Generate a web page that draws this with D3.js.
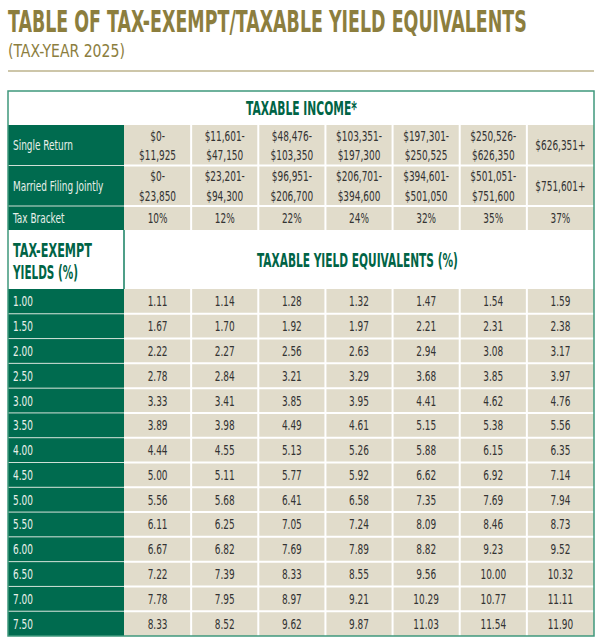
<!DOCTYPE html>
<html><head><meta charset="utf-8">
<script src="https://cdn.jsdelivr.net/npm/d3@7"></script>
<style>
html,body{margin:0;padding:0;background:#fff;}
svg{display:block;}
</style></head>
<body>
<svg id="chart" width="601" height="644"></svg>
<script>
// ---- data ----
const titleText = "TABLE OF TAX-EXEMPT/TAXABLE YIELD EQUIVALENTS";
const subtitleText = "(TAX-YEAR 2025)";
const incomeHeader = "TAXABLE INCOME*";
const exemptHeader = ["TAX-EXEMPT", "YIELDS (%)"];
const equivHeader = "TAXABLE YIELD EQUIVALENTS (%)";
const rowLabels = ["Single Return", "Married Filing Jointly", "Tax Bracket"];
const singleReturn = [["$0-","$11,925"],["$11,601-","$47,150"],["$48,476-","$103,350"],["$103,351-","$197,300"],["$197,301-","$250,525"],["$250,526-","$626,350"],["$626,351+"]];
const marriedJoint = [["$0-","$23,850"],["$23,201-","$94,300"],["$96,951-","$206,700"],["$206,701-","$394,600"],["$394,601-","$501,050"],["$501,051-","$751,600"],["$751,601+"]];
const taxBrackets = ["10%","12%","22%","24%","32%","35%","37%"];
const exemptYields = ["1.00","1.50","2.00","2.50","3.00","3.50","4.00","4.50","5.00","5.50","6.00","6.50","7.00","7.50"];
const equivalents = [
  [1.11,1.14,1.28,1.32,1.47,1.54,1.59],
  [1.67,1.70,1.92,1.97,2.21,2.31,2.38],
  [2.22,2.27,2.56,2.63,2.94,3.08,3.17],
  [2.78,2.84,3.21,3.29,3.68,3.85,3.97],
  [3.33,3.41,3.85,3.95,4.41,4.62,4.76],
  [3.89,3.98,4.49,4.61,5.15,5.38,5.56],
  [4.44,4.55,5.13,5.26,5.88,6.15,6.35],
  [5.00,5.11,5.77,5.92,6.62,6.92,7.14],
  [5.56,5.68,6.41,6.58,7.35,7.69,7.94],
  [6.11,6.25,7.05,7.24,8.09,8.46,8.73],
  [6.67,6.82,7.69,7.89,8.82,9.23,9.52],
  [7.22,7.39,8.33,8.55,9.56,10.00,10.32],
  [7.78,7.95,8.97,9.21,10.29,10.77,11.11],
  [8.33,8.52,9.62,9.87,11.03,11.54,11.90]
];

// ---- layout / style ----
const L = 8, R = 594, labelW = 116;
const GREEN = "#006b4f", BEIGE = "#e1dccb", GOLD = "#8c7e3e", HGREEN = "#006446";
const BORDER = "#3f987c";
const NARROW = "'Liberation Sans Narrow','DejaVu Sans Condensed','Roboto Condensed',sans-serif";

const svg = d3.select("#chart");

// horizontally fitted text: natural glyphs, scaled in x to a target width
function fitText(parent, tx, ty, str, target, opts) {
  const t = parent.append("text")
    .attr("font-family", NARROW)
    .attr("font-weight", opts.weight || "normal")
    .attr("font-size", opts.size)
    .attr("fill", opts.fill)
    .attr("text-anchor", opts.anchor || "start")
    .text(str);
  const w = t.node().getComputedTextLength();
  t.attr("transform", `translate(${tx},${ty}) scale(${target / w},1)`);
  return t;
}

// body text scale derived from a reference label width
const probe = svg.append("text").attr("font-family", NARROW).attr("font-size", 14).text("Single Return");
const SX = 60 / probe.node().getComputedTextLength();
probe.remove();

function stext(g, tx, ty, str, opts) {
  return g.append("text")
    .attr("transform", `translate(${tx},${ty}) scale(${SX},1)`)
    .attr("text-anchor", opts.anchor || "middle")
    .attr("font-family", NARROW).attr("font-size", opts.size || 14)
    .attr("fill", opts.fill || "#333").text(str);
}

const hdr = {income:[91,125], single:[125,165.5], married:[165.5,206], bracket:[206,230], exempt:[230,289]};
const x = d3.scaleBand().domain(d3.range(taxBrackets.length)).range([L+labelW, R]);
const y = d3.scaleBand().domain(exemptYields).range([289, 636]);

// title
fitText(svg, L, 32, titleText, 519, {size:30, weight:"bold", fill:GOLD});
fitText(svg, L, 57, subtitleText, 117, {size:18, fill:GOLD});
svg.append("line").attr("x1", L).attr("x2", R).attr("y1", 71).attr("y2", 71)
  .attr("stroke", "#bcb38c").attr("stroke-width", 1.5);

const g = svg.append("g");

// income header row (white)
g.append("rect").attr("x", L).attr("y", hdr.income[0]).attr("width", R-L).attr("height", hdr.income[1]-hdr.income[0]).attr("fill", "#fff");
fitText(g, 246, 115, incomeHeader, 111, {size:19, weight:"bold", fill:HGREEN});

// green label cells for header rows
const hRows = [hdr.single, hdr.married, hdr.bracket];
hRows.forEach((r, i) => {
  g.append("rect").attr("x", L).attr("y", r[0]).attr("width", labelW).attr("height", r[1]-r[0]).attr("fill", GREEN);
  stext(g, 13, (r[0]+r[1])/2 + 5, rowLabels[i], {anchor:"start", fill:"#e9f0ea"});
});
// green label cells for yields
exemptYields.forEach(v => {
  g.append("rect").attr("x", L).attr("y", y(v)).attr("width", labelW).attr("height", y.bandwidth()).attr("fill", GREEN);
  stext(g, 13, y(v) + y.bandwidth()/2 + 5, v, {anchor:"start", fill:"#e9f0ea"});
});
// separators between green label cells
const gSeps = [hdr.single[1], hdr.married[1]].concat(exemptYields.slice(1).map(v => y(v)));
gSeps.forEach(sy => {
  g.append("line").attr("x1", L).attr("x2", L+labelW).attr("y1", sy).attr("y2", sy)
    .attr("stroke", "#cfe0d6").attr("stroke-width", 1);
});

// beige cells in header rows
const hData = [singleReturn, marriedJoint, taxBrackets.map(d => [d])];
hRows.forEach((r, ri) => {
  hData[ri].forEach((lines, ci) => {
    g.append("rect").attr("x", x(ci)).attr("y", r[0]).attr("width", x.bandwidth()).attr("height", r[1]-r[0]).attr("fill", BEIGE);
    const cx = x(ci) + x.bandwidth()/2, cy = (r[0]+r[1])/2;
    if (lines.length === 2) {
      stext(g, cx, cy - 4.75, lines[0], {});
      stext(g, cx, cy + 14.75, lines[1], {});
    } else {
      stext(g, cx, cy + 5, lines[0], {});
    }
  });
});

// exempt header row
g.append("rect").attr("x", L).attr("y", hdr.exempt[0]).attr("width", R-L).attr("height", hdr.exempt[1]-hdr.exempt[0]).attr("fill", "#fff");
g.append("line").attr("x1", L+labelW).attr("x2", L+labelW).attr("y1", hdr.exempt[0]).attr("y2", hdr.exempt[1])
  .attr("stroke", "#4f9f88").attr("stroke-width", 2);
fitText(g, 13, 256.5, exemptHeader[0], 79, {size:19.5, weight:"bold", fill:HGREEN});
fitText(g, 13, 278.5, exemptHeader[1], 65, {size:19.5, weight:"bold", fill:HGREEN});
fitText(g, 257, 266.5, equivHeader, 201, {size:19.5, weight:"bold", fill:HGREEN});

// data cells
exemptYields.forEach((v, ri) => {
  equivalents[ri].forEach((val, ci) => {
    g.append("rect").attr("x", x(ci)).attr("y", y(v)).attr("width", x.bandwidth()).attr("height", y.bandwidth()).attr("fill", BEIGE);
    stext(g, x(ci) + x.bandwidth()/2, y(v) + y.bandwidth()/2 + 5, val.toFixed(2), {});
  });
});

// white grid lines between beige cells
d3.range(1, taxBrackets.length).forEach(ci => {
  g.append("line").attr("x1", x(ci)).attr("x2", x(ci)).attr("y1", hdr.single[0]).attr("y2", hdr.bracket[1])
    .attr("stroke", "#fff").attr("stroke-width", 2);
  g.append("line").attr("x1", x(ci)).attr("x2", x(ci)).attr("y1", hdr.exempt[1]).attr("y2", 636)
    .attr("stroke", "#fff").attr("stroke-width", 2);
});
[hdr.single[1], hdr.married[1]].concat(exemptYields.slice(1).map(v => y(v))).forEach(sy => {
  g.append("line").attr("x1", L+labelW).attr("x2", R).attr("y1", sy).attr("y2", sy)
    .attr("stroke", "#fff").attr("stroke-width", 2);
});

// outer border
svg.append("rect").attr("x", L).attr("y", 91).attr("width", R-L).attr("height", 636-91)
  .attr("fill", "none").attr("stroke", BORDER).attr("stroke-width", 1.5);
</script>
</body></html>
